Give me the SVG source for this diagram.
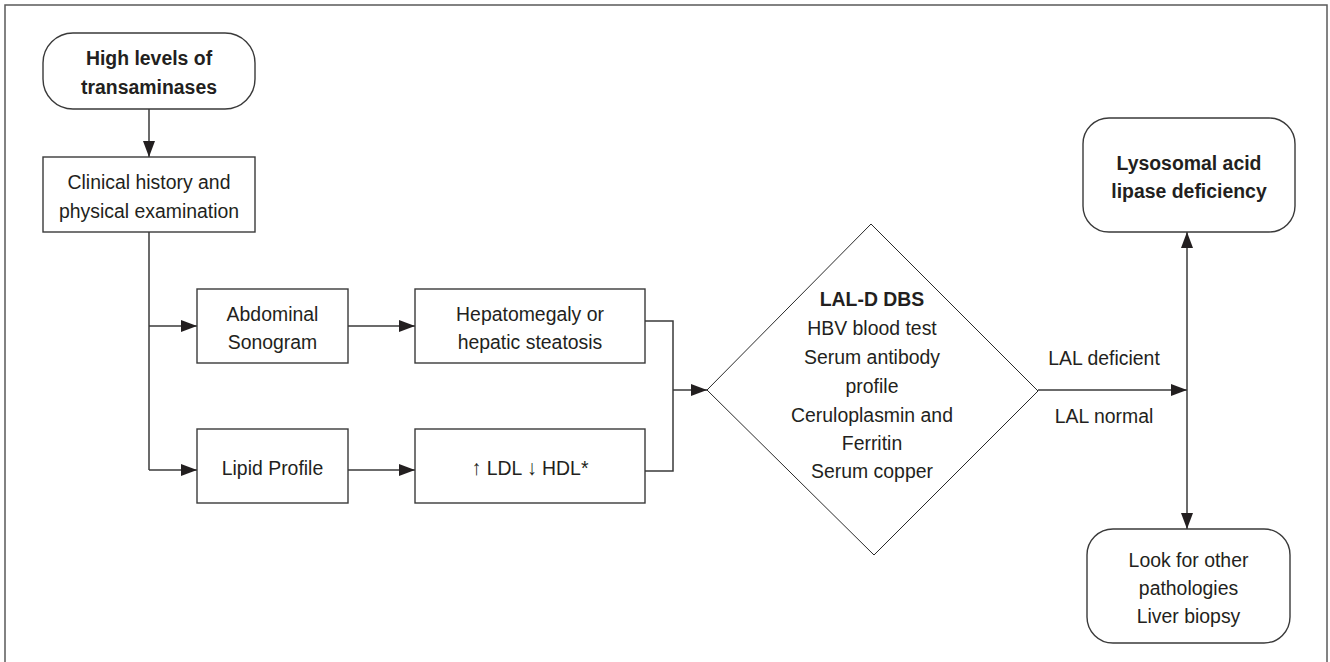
<svg xmlns="http://www.w3.org/2000/svg" width="1330" height="662" viewBox="0 0 1330 662">
  <style>
    .frame { fill: none; stroke: #5a5a5a; stroke-width: 1.5; }
    .box { fill: #ffffff; stroke: #3a3a3a; stroke-width: 1.4; }
    .dia { fill: #ffffff; stroke: #2a2a2a; stroke-width: 1; }
    .line { fill: none; stroke: #3a3a3a; stroke-width: 1.5; }
    .arrow { fill: none; stroke: #3a3a3a; stroke-width: 1.5; marker-end: url(#head); }
    text {
      font-family: "Liberation Sans", Arial, sans-serif; font-size: 21px; fill: #231f20; text-anchor: middle;
      transform-box: fill-box; transform-origin: center; transform: scaleX(0.925);
    }
    .b { font-weight: bold; }
  </style>
  <defs>
    <marker id="head" viewBox="0 0 16 12" refX="16" refY="6" markerWidth="16" markerHeight="12" markerUnits="userSpaceOnUse" orient="auto">
      <path d="M0,0 L16,6 L0,12 Z" fill="#231f20"/>
    </marker>
  </defs>

  <rect class="frame" x="5" y="5" width="1322" height="680"/>

  <g id="connectors">
    <line class="arrow" x1="149" y1="109" x2="149" y2="157"/>
    <polyline class="line" points="149,232 149,470"/>
    <line class="arrow" x1="149" y1="326" x2="197" y2="326"/>
    <line class="arrow" x1="149" y1="470" x2="197" y2="470"/>
    <line class="arrow" x1="348" y1="326" x2="415" y2="326"/>
    <line class="arrow" x1="348" y1="470" x2="415" y2="470"/>
    <polyline class="line" points="645,321 673,321 673,471 645,471"/>
    <line class="arrow" x1="673" y1="390" x2="707" y2="390"/>
    <line class="arrow" x1="1038" y1="390" x2="1187" y2="390"/>
    <line class="arrow" x1="1187" y1="390" x2="1187" y2="232"/>
    <line class="arrow" x1="1187" y1="390" x2="1187" y2="529"/>
    <text x="1104" y="365">LAL deficient</text>
    <text x="1104" y="423">LAL normal</text>
  </g>

  <g id="start">
    <rect class="box" x="43" y="33" width="212" height="76" rx="30"/>
    <text class="b" x="149" y="65">High levels of</text>
    <text class="b" x="149" y="94">transaminases</text>
  </g>

  <g id="clinical">
    <rect class="box" x="43" y="157" width="212" height="75"/>
    <text x="149" y="189">Clinical history and</text>
    <text x="149" y="218">physical examination</text>
  </g>

  <g id="sonogram">
    <rect class="box" x="197" y="289" width="151" height="74"/>
    <text x="272.5" y="321">Abdominal</text>
    <text x="272.5" y="349">Sonogram</text>
  </g>

  <g id="hepatomegaly">
    <rect class="box" x="415" y="289" width="230" height="74"/>
    <text x="530" y="321">Hepatomegaly or</text>
    <text x="530" y="349">hepatic steatosis</text>
  </g>

  <g id="lipid">
    <rect class="box" x="197" y="429" width="151" height="74"/>
    <text x="272.5" y="475">Lipid Profile</text>
  </g>

  <g id="ldl">
    <rect class="box" x="415" y="429" width="230" height="74"/>
    <text x="530" y="475">↑ LDL ↓ HDL*</text>
  </g>

  <g id="tests">
    <polygon class="dia" points="707,390 871,224 1038,391 874,555"/>
    <text class="b" x="872" y="306">LAL-D DBS</text>
    <text x="872" y="335">HBV blood test</text>
    <text x="872" y="364">Serum antibody</text>
    <text x="872" y="393">profile</text>
    <text x="872" y="422">Ceruloplasmin and</text>
    <text x="872" y="450">Ferritin</text>
    <text x="872" y="478">Serum copper</text>
  </g>

  <g id="deficiency">
    <rect class="box" x="1083" y="118" width="212" height="114" rx="26"/>
    <text class="b" x="1189" y="170">Lysosomal acid</text>
    <text class="b" x="1189" y="198">lipase deficiency</text>
  </g>

  <g id="other">
    <rect class="box" x="1087" y="529" width="203" height="114" rx="26"/>
    <text x="1188.5" y="567">Look for other</text>
    <text x="1188.5" y="595">pathologies</text>
    <text x="1188.5" y="623">Liver biopsy</text>
  </g>
</svg>
